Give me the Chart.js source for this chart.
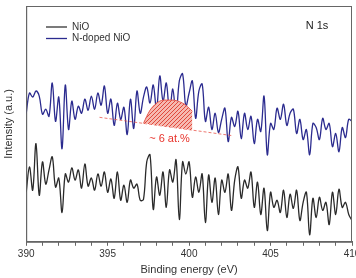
<!DOCTYPE html>
<html>
<head>
<meta charset="utf-8">
<script src="https://cdn.jsdelivr.net/npm/chart.js@4/dist/chart.umd.min.js"></script>
<style>
  html, body { margin: 0; padding: 0; background: #fff; }
  #wrap { width: 356px; height: 278px; }
</style>
</head>
<body>
<div id="wrap"><canvas id="xps" width="356" height="278"></canvas></div>
<script>
// binding energy grid, 390 -> 410 eV in 0.2 eV steps
const eStart = 390, eStep = 0.2, eCount = 101;
const energy = [];
for (let i = 0; i < eCount; i++) energy.push(+(eStart + i * eStep).toFixed(1));

// N-doped NiO (blue)
const dopedNiO = [
  127,147,143,149,144,126,131,124,157,119,
  143,92,155,111,139,121,134,127,141,130,
  144,131,147,135,154,127,141,115,137,121,
  133,106,141,112,149,127,143,153,137,155,
  131,164,139,157,129,151,125,159,166,134,
  147,159,122,149,156,119,133,111,127,108,
  121,132,99,123,114,129,102,127,111,124,
  97,121,109,144,86,117,111,132,121,136,
  115,127,131,107,121,101,111,86,117,113,
  101,122,111,117,94,107,89,113,103,121,
  119
];

// NiO (black)
const pureNiO = [
  49,74,51,97,46,79,57,71,84,54,
  63,29,67,59,73,61,71,53,77,55,
  63,51,67,55,69,49,62,43,69,41,
  56,39,61,53,57,41,42,79,86,32,
  64,46,69,34,71,59,81,22,79,67,
  79,44,64,49,67,19,66,39,63,27,
  61,49,67,31,61,74,43,61,53,69,
  34,59,27,53,11,49,34,41,29,51,
  24,47,33,51,21,39,49,7,43,24,
  44,31,39,17,49,27,52,34,39,27,
  21
];

// fitted N 1s component (hatched) and its background
const peakEnergy = [397.2,397.4,397.6,397.8,398.0,398.2,398.4,398.6,398.8,399.0,399.2,399.4,399.6,399.8,400.0,400.2];
const peakTop    = [117,124,130,134,137,139,140,140,140,140,139.5,138.5,137,135,132,129];
const peakBase   = [117,116.6,116.1,115.7,115.2,114.8,114.3,113.9,113.5,113,112.6,112.1,111.7,111.2,110.8,110.3];
const bgEnergy = [394.5, 402.6];
const bgValue  = [123, 105];

const xTicks = [390, 395, 400, 405, 410];

const pts = (xs, ys) => xs.map((x, i) => ({ x: x, y: ys[i] }));

function hatch() {
  const c = document.createElement('canvas');
  c.width = 4; c.height = 4;
  const g = c.getContext('2d');
  g.fillStyle = '#f6b9b0';
  g.fillRect(0, 0, 4, 4);
  g.strokeStyle = '#e0493c';
  g.lineWidth = 1;
  g.beginPath();
  g.moveTo(0, 4); g.lineTo(4, 0);
  g.moveTo(-1, 1); g.lineTo(1, -1);
  g.moveTo(3, 5); g.lineTo(5, 3);
  g.stroke();
  return g.createPattern(c, 'repeat');
}

const font = "'Liberation Sans', Arial, sans-serif";

const extras = {
  id: 'extras',
  afterDraw(chart) {
    const ctx = chart.ctx;
    const a = chart.chartArea;
    const xs = chart.scales.x, ys = chart.scales.y;
    ctx.save();
    // frame
    ctx.strokeStyle = '#666';
    ctx.lineWidth = 1;
    ctx.strokeRect(a.left + 0.5, a.top + 0.5, a.right - a.left - 1, a.bottom - a.top);
    // legend
    ctx.font = '10px ' + font;
    ctx.textBaseline = 'middle';
    ctx.lineWidth = 1.3;
    ctx.strokeStyle = '#333';
    ctx.beginPath(); ctx.moveTo(46, 27); ctx.lineTo(67, 27); ctx.stroke();
    ctx.strokeStyle = '#2b2b8f';
    ctx.beginPath(); ctx.moveTo(46, 38.5); ctx.lineTo(67, 38.5); ctx.stroke();
    ctx.fillStyle = '#333';
    ctx.fillText('NiO', 72, 27);
    ctx.fillText('N-doped NiO', 72, 38.5);
    // panel label
    ctx.font = '11px ' + font;
    ctx.fillStyle = '#222';
    ctx.textAlign = 'center';
    ctx.fillText('N 1s', 317, 26);
    // atomic fraction
    ctx.fillStyle = '#e8332b';
    ctx.font = '11px ' + font;
    ctx.fillText('~ 6 at.%', xs.getPixelForValue(398.8), ys.getPixelForValue(102));
    ctx.restore();
  }
};

new Chart(document.getElementById('xps'), {
  type: 'line',
  data: {
    datasets: [
      {
        label: 'peak',
        data: pts(peakEnergy, peakTop),
        borderColor: '#e2574b',
        borderWidth: 1,
        pointRadius: 0,
        fill: '+1',
        backgroundColor: hatch(),
        tension: 0.3
      },
      {
        label: 'peakBase',
        data: pts(peakEnergy, peakBase),
        borderWidth: 0,
        borderColor: 'rgba(0,0,0,0)',
        pointRadius: 0,
        fill: false
      },
      {
        label: 'background',
        data: pts(bgEnergy, bgValue),
        borderColor: '#e8574c',
        borderWidth: 0.8,
        borderDash: [3, 2],
        pointRadius: 0,
        fill: false
      },
      {
        label: 'N-doped NiO',
        data: pts(energy, dopedNiO),
        borderColor: '#2b2b8f',
        borderWidth: 1.3,
        pointRadius: 0,
        fill: false,
        tension: 0.35
      },
      {
        label: 'NiO',
        data: pts(energy, pureNiO),
        borderColor: '#2a2a2a',
        borderWidth: 1.3,
        pointRadius: 0,
        fill: false,
        tension: 0.35
      }
    ]
  },
  options: {
    responsive: false,
    animation: false,
    layout: { padding: { top: 6, left: 0, right: 4, bottom: 1 } },
    plugins: {
      legend: { display: false },
      tooltip: { enabled: false }
    },
    scales: {
      x: {
        type: 'linear',
        min: 390,
        max: 410,
        afterFit: (s) => { s.paddingRight = 0; },
        ticks: {
          stepSize: 1,
          autoSkip: false,
          maxRotation: 0,
          padding: 2,
          color: '#333',
          font: { family: font, size: 10 },
          callback: (v) => xTicks.includes(v) ? String(v) : ''
        },
        grid: { drawOnChartArea: false, tickLength: 4, color: '#666' },
        border: { color: '#666' },
        title: {
          display: true,
          text: 'Binding energy (eV)',
          color: '#333',
          font: { family: font, size: 11 },
          padding: { top: 2, bottom: 0 }
        }
      },
      y: {
        min: 0,
        max: 233,
        ticks: { display: false },
        grid: { display: false },
        border: { color: '#666' },
        title: {
          display: true,
          text: 'Intensity (a.u.)',
          color: '#333',
          font: { family: font, size: 11 },
          padding: { top: 2, bottom: 3 }
        }
      }
    }
  },
  plugins: [extras]
});
</script>
</body>
</html>
